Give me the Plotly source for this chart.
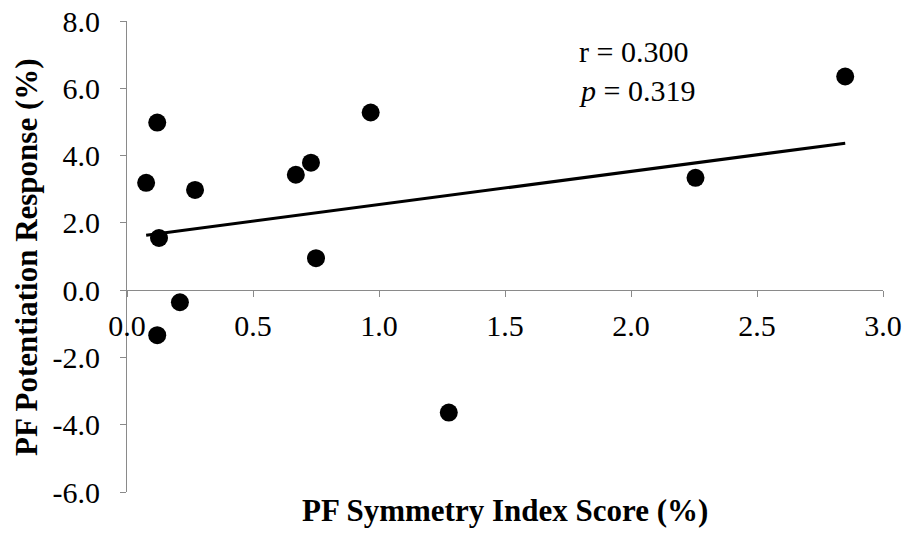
import numpy as np
import plotly.graph_objects as go

# Data
symmetry_index = [0.076, 0.12, 0.127, 0.12, 0.21, 0.27, 0.67, 0.73, 0.75, 0.967, 1.277, 2.256, 2.85]
potentiation = [3.19, 4.98, 1.55, -1.34, -0.36, 2.98, 3.43, 3.79, 0.95, 5.28, -3.64, 3.34, 6.35]

x_tickvals = [0.0, 0.5, 1.0, 1.5, 2.0, 2.5, 3.0]
x_ticktext = ["0.0", "0.5", "1.0", "1.5", "2.0", "2.5", "3.0"]
y_tickvals = [-6, -4, -2, 0, 2, 4, 6, 8]
y_ticktext = ["-6.0", "-4.0", "-2.0", "0.0", "2.0", "4.0", "6.0", "8.0"]

stats_r = "r = 0.300"
stats_p = "<i>p</i> = 0.319"
x_title = "PF Symmetry Index Score (%)"
y_title = "PF Potentiation Response (%)"

FONT = "Liberation Serif"
AXIS_GRAY = "#8a8a8a"
FS = 30

# Linear trendline over data range
xs = np.array(symmetry_index)
ys = np.array(potentiation)
slope, intercept = np.polyfit(xs, ys, 1)
trend_x = [xs.min(), xs.max()]
trend_y = [slope * v + intercept for v in trend_x]

fig = go.Figure()
fig.add_trace(go.Scatter(x=trend_x, y=trend_y, mode="lines",
                         line=dict(color="black", width=3), showlegend=False,
                         hoverinfo="skip"))
fig.add_trace(go.Scatter(x=symmetry_index, y=potentiation, mode="markers",
                         marker=dict(color="black", size=18, line=dict(width=0)),
                         showlegend=False))

y_min, y_max = -6, 8
fig.update_layout(
    width=906, height=537,
    margin=dict(l=127, r=23, t=21, b=45, autoexpand=False),
    paper_bgcolor="white", plot_bgcolor="white",
    font=dict(family=FONT, size=FS, color="black"),
    xaxis=dict(range=[0, 3], tickvals=x_tickvals, ticktext=x_ticktext,
               showgrid=False, zeroline=False, showline=True, linecolor=AXIS_GRAY,
               linewidth=1, ticks="outside", ticklen=6, tickcolor=AXIS_GRAY,
               anchor="free", position=(0 - y_min) / (y_max - y_min),
               ticklabelstandoff=3, automargin=False,
               tickfont=dict(family=FONT, size=FS, color="black")),
    yaxis=dict(range=[y_min, y_max], tickvals=y_tickvals, ticktext=y_ticktext,
               showgrid=False, zeroline=False, showline=True, linecolor=AXIS_GRAY,
               linewidth=1, ticks="outside", ticklen=6, tickcolor=AXIS_GRAY,
               ticklabelstandoff=14, automargin=False,
               tickfont=dict(family=FONT, size=FS, color="black")),
    annotations=[
        dict(text=stats_r, x=1.787, y=7.09, xref="x", yref="y", xanchor="left",
             yanchor="middle", showarrow=False, font=dict(family=FONT, size=FS)),
        dict(text=stats_p, x=1.787, y=5.93, xref="x", yref="y", xanchor="left",
             yanchor="middle", showarrow=False, font=dict(family=FONT, size=FS)),
        dict(text="<b>" + x_title + "</b>", x=0.5, y=-0.04, xref="paper", yref="paper",
             xanchor="center", yanchor="middle", showarrow=False,
             font=dict(family=FONT, size=31)),
        dict(text="<b>" + y_title + "</b>", x=-0.133, y=0.5, xref="paper", yref="paper",
             xanchor="center", yanchor="middle", textangle=-90, showarrow=False,
             font=dict(family=FONT, size=31)),
    ],
)

fig.write_html("out.html")
